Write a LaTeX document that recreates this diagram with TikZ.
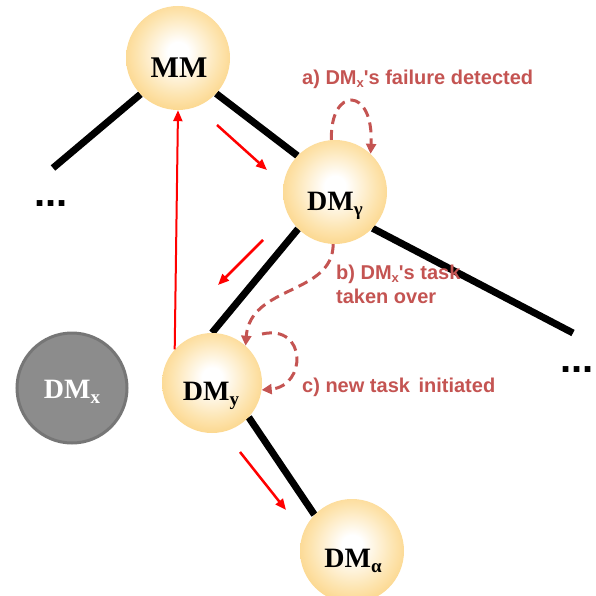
\documentclass[tikz,border=0pt]{standalone}
\usepackage{fontspec}
\setmainfont{Liberation Serif}
\newfontfamily\notefont{Liberation Sans}
\usetikzlibrary{arrows.meta,backgrounds}

\definecolor{orbedge}{RGB}{251,202,108}
\definecolor{orbmid}{RGB}{253,228,175}
\definecolor{notered}{RGB}{196,84,82}
\definecolor{deadfill}{RGB}{140,140,140}
\definecolor{deadrim}{RGB}{118,118,118}

% soft orange ball with a white highlight
\pgfdeclareradialshading{orb}{\pgfpoint{0bp}{3bp}}{%
  color(0bp)=(white); color(5bp)=(white); color(20bp)=(orbmid);
  color(34bp)=(orbedge); color(50bp)=(orbedge)}

\newcommand{\nodesub}[1]{\raisebox{-5pt}{\fontsize{19}{19}\selectfont #1}}
\newcommand{\notesub}[1]{\raisebox{-3pt}{\fontsize{13}{13}\selectfont #1}}

\tikzset{
  ball/.style={circle, inner sep=0pt, shading=orb, minimum size=#1},
  deadball/.style={circle, inner sep=0pt, fill=deadfill, draw=deadrim,
    line width=3pt, minimum size=#1},
  lbl/.style={anchor=base, inner sep=0pt,
    font=\fontsize{28}{28}\selectfont\bfseries},
  treeedge/.style={line width=7pt},
  flow/.style={red, line width=2.5pt, -{Triangle[length=11pt,width=9pt]}},
  note/.style={notered, line width=3pt, dash pattern=on 10pt off 6pt,
    -{Triangle[length=10pt,width=10pt]}},
  notetext/.style={anchor=base west, inner sep=0pt, text=notered,
    font=\notefont\fontsize{20}{24}\selectfont\bfseries, align=left},
  dots/.style={anchor=base west, inner sep=0pt,
    font=\notefont\fontsize{40}{40}\selectfont\bfseries}
}

\begin{document}
\begin{tikzpicture}[x=1pt,y=-1pt]
\useasboundingbox (0,0) rectangle (595,596);

% manager nodes
\node[ball=104pt] (MM)  at (178,58)  {};
\node[ball=104pt] (DMg) at (335,192) {};
\node[ball=100pt] (DMy) at (212,383) {};
\node[ball=104pt] (DMa) at (352,551) {};
\node[deadball=110pt] (DMx) at (72,388) {};

\node[lbl, font=\fontsize{30}{30}\selectfont\bfseries] (MMt) at (179,78) {MM};
\node[lbl] (DMgt) at (335,210) {DM\nodesub{γ}};
\node[lbl] (DMyt) at (211,400) {DM\nodesub{y}};
\node[lbl, text=white] (DMxt) at (72,398) {DM\nodesub{x}};
\node[lbl] (DMat) at (353,567) {DM\nodesub{α}};

% tree edges
\coordinate (leftend)  at (53,168);
\coordinate (rightend) at (573,333);
\begin{pgfonlayer}{background}
  \draw[treeedge] (MM.224) -- (leftend);
  \draw[treeedge] (MM.-43) -- (DMg.136);
  \draw[treeedge] (DMg.225) -- (DMy.90);
  \draw[treeedge] (DMg.-44) -- (rightend);
  \draw[treeedge] (DMy.-43) -- (DMa.136);
\end{pgfonlayer}

\node[dots] (dotsl) at (34,206) {...};
\node[dots] (dotsr) at (560,372) {...};

% message flow
\coordinate (f1s) at (217,125); \coordinate (f1e) at (267,170);
\coordinate (f2s) at (263,240); \coordinate (f2e) at (218,285);
\coordinate (f3s) at (240,452); \coordinate (f3e) at (286,510);
\draw[flow] (f1s) -- (f1e);
\draw[flow] (f2s) -- (f2e);
\draw[flow] (f3s) -- (f3e);
\draw[flow, line width=2pt] (DMy.138) -- (MM.south);

% recovery steps
\draw[note] (DMg.94) .. controls (330,86) and (374,86) .. (DMg.47);
\draw[note] (DMg.-92) .. controls (333,295) and (250,285) .. (DMy.48);
\coordinate (cstart) at (262,334);
\draw[note] (cstart) .. controls (307,324) and (307,386) .. (DMy.-8);

\node[notetext] (notea) at (302,85) {a) DM\notesub{x}'s failure detected};
\node[notetext] (noteb) at (336,303) {b) DM\notesub{x}'s task\\taken over};
\node[notetext] (notec) at (302,392) {c) new task\hspace{3pt} initiated};
\end{tikzpicture}
\end{document}
